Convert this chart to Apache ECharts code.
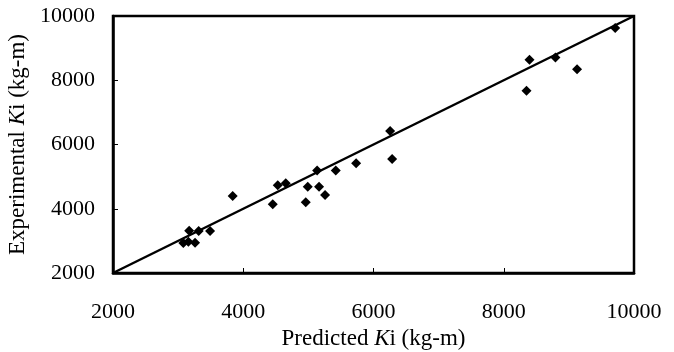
<!DOCTYPE html>
<html><head><meta charset="utf-8">
<script src="https://cdn.jsdelivr.net/npm/echarts@6/dist/echarts.min.js"></script>
<style>html,body{margin:0;padding:0;background:#fff}#c{width:674px;height:352px}</style>
</head><body><div id="c"></div>
<script>
const predicted = [3080, 3170, 3157, 3260, 3316, 3490, 3838, 4453, 4530, 4653, 4960, 4990, 5134, 5164, 5256, 5420, 5733, 6255, 6286, 8349, 8395, 8794, 9126, 9711];
const experimental = [2930, 3318, 2975, 2940, 3308, 3308, 4399, 4140, 4732, 4794, 4202, 4688, 5187, 4688, 4430, 5187, 5417, 6424, 5551, 7670, 8636, 8708, 8346, 9624];
const lineX = [2000, 10000];
const lineY = [2000, 10000];
const tickValues = [2000, 4000, 6000, 8000, 10000];

const font = 'Liberation Serif';
const rich = { n: { fontFamily: font, fontSize: 23, color: '#000' }, i: { fontFamily: font, fontSize: 23, fontStyle: 'italic', color: '#000' } };
const chart = echarts.init(document.getElementById('c'));
chart.setOption({
  animation: false,
  backgroundColor: '#fff',
  grid: { left: 113, right: 40, top: 16, bottom: 79, containLabel: false, outerBoundsMode: 'none', show: true, borderColor: '#000', borderWidth: 2.5, backgroundColor: 'transparent' },
  xAxis: {
    type: 'value', min: tickValues[0], max: tickValues[tickValues.length-1], interval: 2000,
    splitLine: { show: false },
    axisLine: { show: true, lineStyle: { color: '#000', width: 2.5 } },
    axisTick: { show: true, inside: true, length: 5, lineStyle: { color: '#000', width: 1 } },
    axisLabel: { color: '#000', fontFamily: font, fontSize: 22, margin: 28, formatter: v => String(v) },
    name: '{n|Predicted }{i|K}{n|i (kg-m)}',
    nameLocation: 'middle', nameGap: 51,
    nameTextStyle: { rich }
  },
  yAxis: {
    type: 'value', min: tickValues[0], max: tickValues[tickValues.length-1], interval: 2000,
    splitLine: { show: false },
    axisLine: { show: true, lineStyle: { color: '#000', width: 2.5 } },
    axisTick: { show: true, inside: true, length: 5, lineStyle: { color: '#000', width: 1 } },
    axisLabel: { color: '#000', fontFamily: font, fontSize: 22, margin: 18, formatter: v => String(v) },
    name: '{n|Experimental }{i|K}{n|i (kg-m)}',
    nameLocation: 'middle', nameGap: 77, nameRotate: 90,
    nameTextStyle: { rich }
  },
  series: [
    {
      type: 'line', data: lineX.map((x, i) => [x, lineY[i]]), symbol: 'none',
      lineStyle: { color: '#000', width: 2.5 }, z: 2
    },
    {
      type: 'scatter', data: predicted.map((x, i) => [x, experimental[i]]),
      symbol: 'diamond', symbolSize: [10, 10], itemStyle: { color: '#000', opacity: 1 }, z: 3
    }
  ]
});
</script></body></html>
